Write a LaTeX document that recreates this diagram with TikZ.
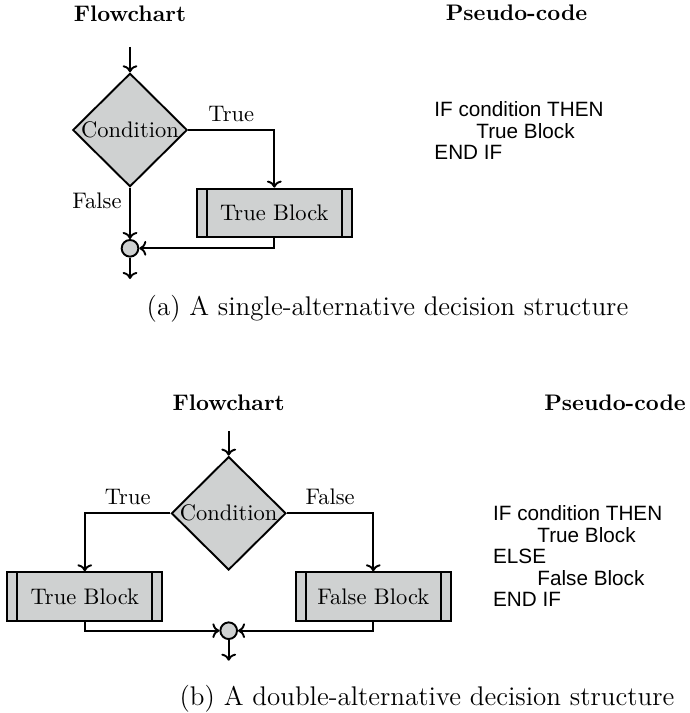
\documentclass[tikz,border=0pt]{standalone}
\usepackage{fontspec}
\newfontfamily\codefont{Liberation Sans}
\usetikzlibrary{shapes.geometric, arrows.meta}

\definecolor{boxgray}{RGB}{207,209,209}

\tikzset{
  flow/.style={line width=0.85pt, -{Computer Modern Rightarrow[scale=0.9]}},
  decision/.style={diamond, draw, line width=0.85pt, fill=boxgray, inner sep=0pt,
    minimum width=50.9pt, minimum height=50.4pt},
  subroutine/.style={rectangle, draw, line width=0.85pt, fill=boxgray,
    minimum width=68.9pt, minimum height=21.5pt,
    path picture={
      \draw[line width=0.85pt]
        ([xshift=4.45pt]path picture bounding box.north west) --
        ([xshift=4.45pt]path picture bounding box.south west)
        ([xshift=-4.45pt]path picture bounding box.north east) --
        ([xshift=-4.45pt]path picture bounding box.south east);
    }},
  junction/.style={circle, draw, line width=0.85pt, fill=boxgray, inner sep=0pt,
    minimum size=7.4pt},
  heading/.style={anchor=base, inner sep=0pt, font=\bfseries},
  codeline/.style={anchor=base west, inner sep=0pt,
    font=\codefont\fontsize{9.2pt}{11pt}\selectfont},
  subcaption/.style={anchor=base, inner sep=0pt, font=\large},
}

\begin{document}
\begin{tikzpicture}[x=0.4444pt, y=-0.4444pt]
  \useasboundingbox (0,0) rectangle (689,713);

  % ---------- (a) single-alternative ----------
  \node[heading] (fc1) at (130,21.7) {Flowchart};
  \node[heading] (pc1) at (516.5,21) {Pseudo-code};

  \coordinate (in1) at (130,47);
  \node[decision, label={center:Condition}] (c1) at (130,130) {};
  \node[subroutine] (tb1) at (274.3,212.8) {True Block};
  \node[junction] (m1) at (130,248.3) {};
  \coordinate (out1) at (130,279);

  \draw[flow] (in1) -- (c1.north);
  \draw[flow] (c1.east) -| node[pos=0.25, above] {True} (tb1.north);
  \draw[flow] (c1.south) -- node[pos=0.25, left] {False} (m1.north);
  \draw[flow] (tb1.south) |- (m1.east);
  \draw[flow] (m1.south) -- (out1);

  \node[codeline] (pa1) at (434,116.7) {IF condition THEN};
  \node[codeline] (pa2) at (476,138.3) {True Block};
  \node[codeline] (pa3) at (434,159.3) {END IF};

  \node[subcaption] (capa) at (387.5,315) {(a) A single-alternative decision structure};

  % ---------- (b) double-alternative ----------
  \node[heading] (fc2) at (228.7,410) {Flowchart};
  \node[heading] (pc2) at (615,410) {Pseudo-code};

  \coordinate (in2) at (228.7,431);
  \node[decision, label={center:Condition}] (c2) at (228.7,513.3) {};
  \node[subroutine] (tb2) at (84.8,596.5) {True Block};
  \node[subroutine] (fb2) at (373.3,596.5) {False Block};
  \node[junction] (m2) at (228.7,630.7) {};
  \coordinate (out2) at (228.7,660.7);

  \draw[flow] (in2) -- (c2.north);
  \draw[flow] (c2.west) -| node[pos=0.25, above] {True} (tb2.north);
  \draw[flow] (c2.east) -| node[pos=0.25, above] {False} (fb2.north);
  \draw[flow] (tb2.south) |- (m2.west);
  \draw[flow] (fb2.south) |- (m2.east);
  \draw[flow] (m2.south) -- (out2);

  \node[codeline] (pb1) at (492.7,520.7) {IF condition THEN};
  \node[codeline] (pb2) at (537,542.7) {True Block};
  \node[codeline] (pb3) at (492.7,563.3) {ELSE};
  \node[codeline] (pb4) at (537,585) {False Block};
  \node[codeline] (pb5) at (492.7,606) {END IF};

  \node[subcaption] (capb) at (427,705) {(b) A double-alternative decision structure};
\end{tikzpicture}
\end{document}
